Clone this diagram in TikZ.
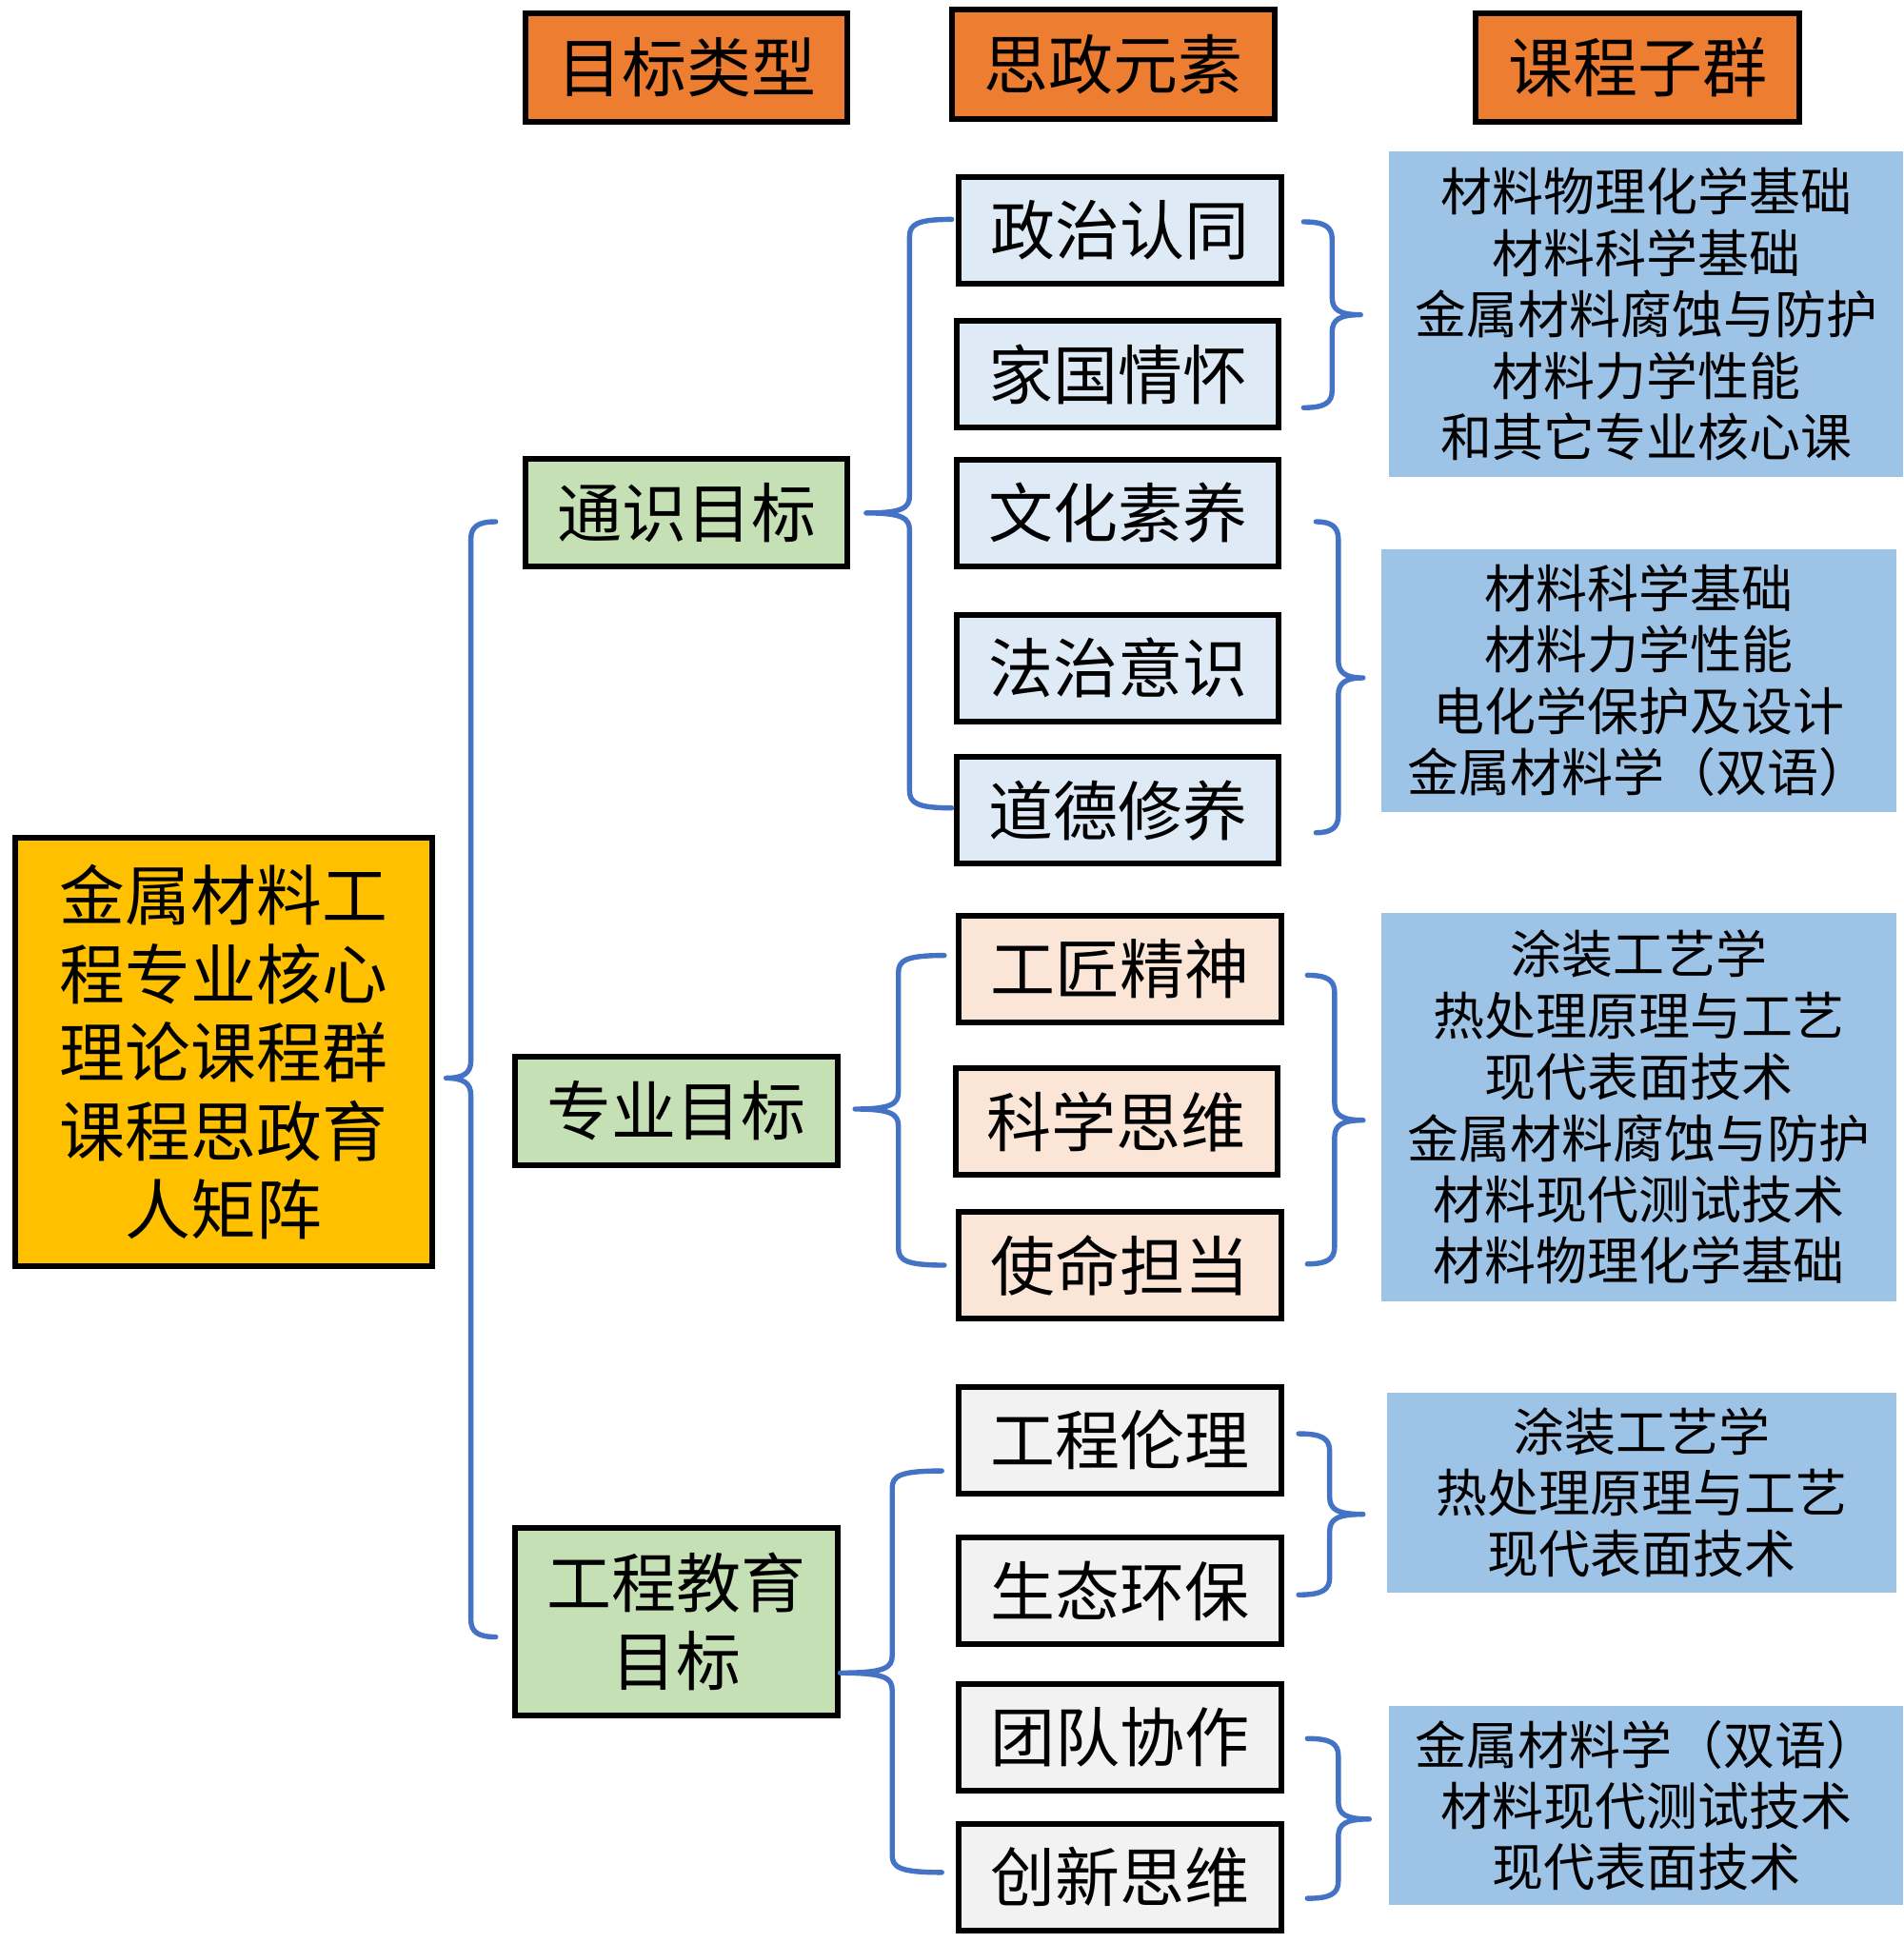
\documentclass[tikz,border=0pt]{standalone}
\usepackage{fontspec}
\newfontfamily\cjk{Noto Sans CJK SC}
\definecolor{hdrorange}{HTML}{ED7D31}
\definecolor{maingold}{HTML}{FFC000}
\definecolor{greenfill}{HTML}{C5E0B4}
\definecolor{lblue}{HTML}{DEEBF7}
\definecolor{lpeach}{HTML}{FBE5D6}
\definecolor{lgray}{HTML}{F2F2F2}
\definecolor{coursebl}{HTML}{9DC3E6}
\definecolor{bracebl}{HTML}{4472C4}
\tikzset{
  boxbase/.style n args={2}{draw=black, line width=3pt, minimum width=#1*0.651pt, minimum height=#2*0.651pt, inner sep=0pt, align=center},
  hdr/.style 2 args={boxbase={#1}{#2}, fill=hdrorange, font=\cjk\fontsize{34}{41}\selectfont},
  goal/.style 2 args={boxbase={#1}{#2}, fill=greenfill, font=\cjk\fontsize{34}{41}\selectfont},
  elemblue/.style={boxbase={260}{86}, fill=lblue, font=\cjk\fontsize{34}{41}\selectfont},
  elempeach/.style={boxbase={260}{86}, fill=lpeach, font=\cjk\fontsize{34}{41}\selectfont},
  elemgray/.style={boxbase={260}{86}, fill=lgray, font=\cjk\fontsize{34}{41}\selectfont},
  course/.style 2 args={fill=coursebl, minimum width=#1*0.651pt, minimum height=#2*0.651pt, inner sep=0pt, align=center, font=\cjk\fontsize{27}{32.2}\selectfont},
  mainbox/.style={boxbase={337}{346}, fill=maingold, font=\cjk\fontsize{34.4}{41.3}\selectfont},
  bracestyle/.style={draw=bracebl, line width=2.7pt, line cap=round, line join=round}
}
% brace with tip to the left: xv, ytop, ybot, ymid, xend, xtip
\newcommand{\BraceTipLeft}[6]{%
  \draw[bracestyle] (#5,#2) .. controls (#1+6,#2) and (#1,#2+4) .. (#1,#2+14)
    -- (#1,#4-14) .. controls (#1,#4-4) and (#1-6,#4) .. (#6,#4)
    .. controls (#1-6,#4) and (#1,#4+4) .. (#1,#4+14)
    -- (#1,#3-14) .. controls (#1,#3-4) and (#1+6,#3) .. (#5,#3);}
% brace with tip to the right
\newcommand{\BraceTipRight}[6]{%
  \draw[bracestyle] (#5,#2) .. controls (#1-6,#2) and (#1,#2+4) .. (#1,#2+14)
    -- (#1,#4-14) .. controls (#1,#4-4) and (#1+6,#4) .. (#6,#4)
    .. controls (#1+6,#4) and (#1,#4+4) .. (#1,#4+14)
    -- (#1,#3-14) .. controls (#1,#3-4) and (#1-6,#3) .. (#5,#3);}
\begin{document}
\begin{tikzpicture}[x=0.651pt, y=-0.651pt]
\useasboundingbox[fill=white] (0,0) rectangle (1536,1568);

% headers
\node[hdr={260}{87}] (h1) at (554,54.5) {目标类型};
\node[hdr={261}{88}] (h2) at (898.5,52) {思政元素};
\node[hdr={261}{87}] (h3) at (1321.5,54.5) {课程子群};

% main box
\node[mainbox] (main) at (180.5,849) {金属材料工\\程专业核心\\理论课程群\\课程思政育\\人矩阵};

% goal types
\node[goal={260}{87}] (g1) at (554,413.5) {通识目标};
\node[goal={260}{87}] (g2) at (546,896.5) {专业目标};
\node[goal={260}{151}] (g3) at (546,1308.5) {工程教育\\目标};

% elements
\node[elemblue] (e1) at (904,186) {政治认同};
\node[elemblue] (e2) at (902,302) {家国情怀};
\node[elemblue] (e3) at (902,414) {文化素养};
\node[elemblue] (e4) at (902,539) {法治意识};
\node[elemblue] (e5) at (902,654) {道德修养};
\node[elempeach] (e6) at (904,782) {工匠精神};
\node[elempeach] (e7) at (901,905) {科学思维};
\node[elempeach] (e8) at (904,1021) {使命担当};
\node[elemgray] (e9) at (904,1162) {工程伦理};
\node[elemgray] (e10) at (904,1284) {生态环保};
\node[elemgray] (e11) at (904,1402) {团队协作};
\node[elemgray] (e12) at (904,1515) {创新思维};

% course groups
\node[course={415}{263}] (b1) at (1328.5,253.5) {材料物理化学基础\\材料科学基础\\金属材料腐蚀与防护\\材料力学性能\\和其它专业核心课};
\node[course={415}{212}] (b2) at (1322.5,549) {材料科学基础\\材料力学性能\\电化学保护及设计\\金属材料学（双语）};
\node[course={415}{313}] (b3) at (1322.5,893.5) {涂装工艺学\\热处理原理与工艺\\现代表面技术\\金属材料腐蚀与防护\\材料现代测试技术\\材料物理化学基础};
\node[course={411}{161}] (b4) at (1324.5,1204.5) {涂装工艺学\\热处理原理与工艺\\现代表面技术};
\node[course={415}{160}] (b5) at (1328.5,1457) {金属材料学（双语）\\材料现代测试技术\\现代表面技术};

% braces
\BraceTipLeft{380}{421}{1321}{870}{400}{360}
\BraceTipLeft{734}{177}{652}{414}{768}{699}
\BraceTipLeft{725}{771}{1021}{895}{762}{690}
\BraceTipLeft{720}{1187}{1511}{1350}{760}{678}
\BraceTipRight{1075}{179}{329}{254}{1052}{1098}
\BraceTipRight{1080}{421}{672}{547}{1062}{1100}
\BraceTipRight{1077}{787}{1020}{904}{1055}{1100}
\BraceTipRight{1073}{1157}{1287}{1222}{1048}{1100}
\BraceTipRight{1080}{1403}{1532}{1468}{1055}{1105}
\end{tikzpicture}
\end{document}
